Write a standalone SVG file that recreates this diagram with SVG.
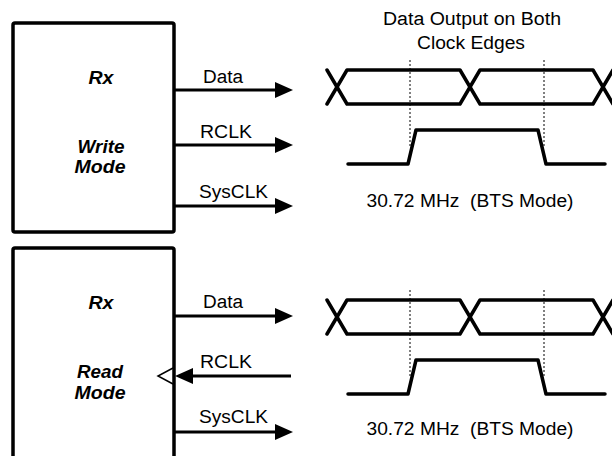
<svg xmlns="http://www.w3.org/2000/svg" width="612" height="456" viewBox="0 0 612 456">
<style>
.box{fill:#fff;stroke:#000;stroke-width:3.5;stroke-linejoin:round}
.t{font-family:"Liberation Sans",Arial,sans-serif;font-size:18px;fill:#000}
.bi{font-weight:bold;font-style:italic;text-anchor:middle}
.mid{text-anchor:middle}
.wire{stroke:#000;stroke-width:3;fill:none}
.wave{stroke:#000;stroke-width:3.5;fill:none;stroke-linecap:round;stroke-linejoin:round}
.dot{stroke:#000;stroke-width:1;stroke-dasharray:2,2;fill:none}
</style>
<defs>
<marker id="ah" viewBox="0 0 18 16" refX="5" refY="8" markerWidth="18" markerHeight="16" markerUnits="userSpaceOnUse" orient="auto">
<path d="M0,0 L18,8 L0,16 Z" fill="#000"/>
</marker>
</defs>
<rect width="612" height="456" fill="#fff"/>

<g id="rx-write">
<rect class="box" x="13" y="23" width="161" height="209" rx="2"/>
<text class="t bi" x="101" y="84" textLength="25" lengthAdjust="spacingAndGlyphs">Rx</text>
<text class="t bi" x="101" y="153" textLength="47" lengthAdjust="spacingAndGlyphs">Write</text>
<text class="t bi" x="100" y="173" textLength="51" lengthAdjust="spacingAndGlyphs">Mode</text>
</g>

<g id="rx-read">
<rect class="box" x="13" y="248" width="161" height="230" rx="2"/>
<text class="t bi" x="101" y="309" textLength="25" lengthAdjust="spacingAndGlyphs">Rx</text>
<text class="t bi" x="100" y="378" textLength="46" lengthAdjust="spacingAndGlyphs">Read</text>
<text class="t bi" x="100" y="399" textLength="51" lengthAdjust="spacingAndGlyphs">Mode</text>
<polyline points="173,368 158,376 173,384" fill="none" stroke="#000" stroke-width="1.5"/>
</g>

<g id="connectors">
<line class="wire" x1="174" y1="90" x2="280" y2="90" marker-end="url(#ah)"/>
<line class="wire" x1="174" y1="145" x2="280" y2="145" marker-end="url(#ah)"/>
<line class="wire" x1="174" y1="206" x2="280" y2="206" marker-end="url(#ah)"/>
<line class="wire" x1="174" y1="316" x2="280" y2="316" marker-end="url(#ah)"/>
<line class="wire" x1="291" y1="376" x2="188" y2="376" marker-end="url(#ah)"/>
<line class="wire" x1="174" y1="432" x2="280" y2="432" marker-end="url(#ah)"/>
</g>

<g id="signal-labels">
<text class="t" x="203" y="83" textLength="40" lengthAdjust="spacingAndGlyphs">Data</text>
<text class="t" x="200" y="138" textLength="52" lengthAdjust="spacingAndGlyphs">RCLK</text>
<text class="t" x="199" y="198" textLength="69" lengthAdjust="spacingAndGlyphs">SysCLK</text>
<text class="t" x="203" y="308" textLength="40" lengthAdjust="spacingAndGlyphs">Data</text>
<text class="t" x="200" y="368" textLength="52" lengthAdjust="spacingAndGlyphs">RCLK</text>
<text class="t" x="199" y="423" textLength="69" lengthAdjust="spacingAndGlyphs">SysCLK</text>
</g>

<g id="timing-write">
<text class="t mid" x="472" y="25" textLength="178" lengthAdjust="spacingAndGlyphs">Data Output on Both</text>
<text class="t mid" x="471" y="49" textLength="108" lengthAdjust="spacingAndGlyphs">Clock Edges</text>
<line class="dot" x1="410" y1="60" x2="410" y2="146"/>
<line class="dot" x1="544" y1="60" x2="544" y2="148"/>
<path class="wave" d="M327,70 L347,104 L460,104 L480,70 L593,70 L613,104"/>
<path class="wave" d="M327,104 L347,70 L460,70 L480,104 L593,104 L613,70"/>
<path class="wave" d="M348,164 L408,164 L416,130 L538,130 L546,164 L605,164"/>
<text class="t mid" x="470" y="207" xml:space="preserve" textLength="207" lengthAdjust="spacingAndGlyphs">30.72 MHz  (BTS Mode)</text>
</g>

<g id="timing-read">
<line class="dot" x1="410" y1="290" x2="410" y2="376"/>
<line class="dot" x1="544" y1="290" x2="544" y2="378"/>
<path class="wave" d="M327,300 L347,334 L460,334 L480,300 L593,300 L613,334"/>
<path class="wave" d="M327,334 L347,300 L460,300 L480,334 L593,334 L613,300"/>
<path class="wave" d="M348,394 L408,394 L416,360 L538,360 L546,394 L605,394"/>
<text class="t mid" x="470" y="435" xml:space="preserve" textLength="207" lengthAdjust="spacingAndGlyphs">30.72 MHz  (BTS Mode)</text>
</g>
</svg>
